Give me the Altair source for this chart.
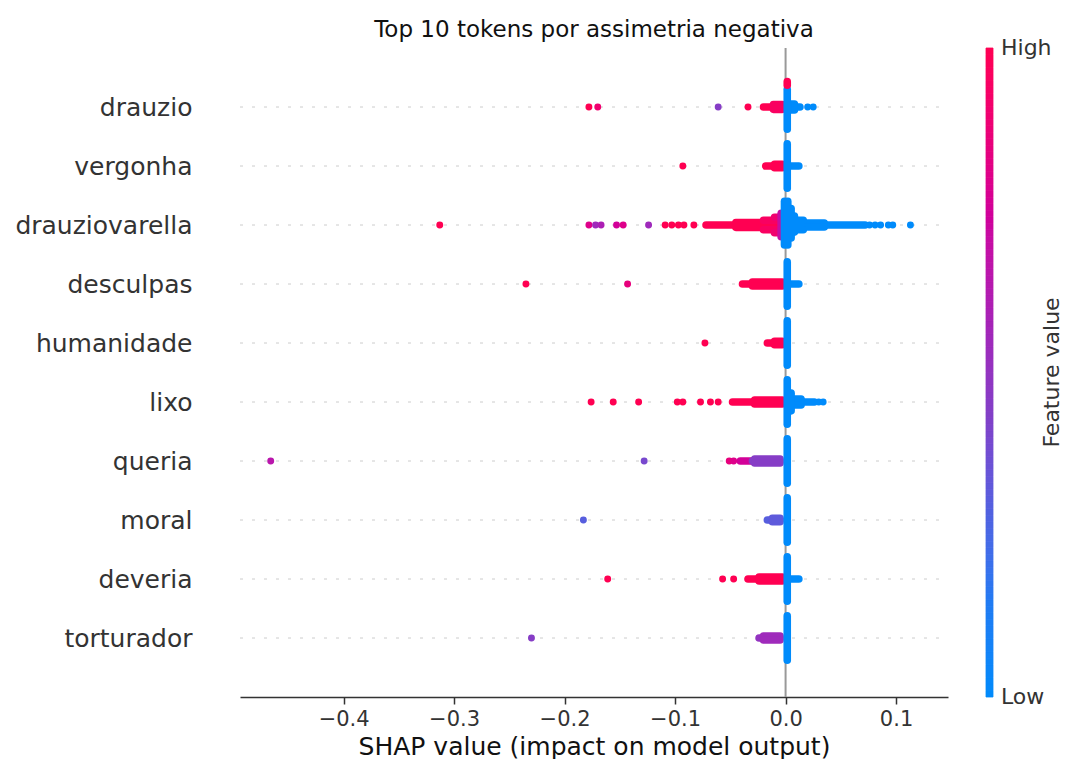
import altair as alt
import pandas as pd

# ---------------- data ----------------
tokens = ["drauzio", "vergonha", "drauziovarella", "desculpas", "humanidade",
          "lixo", "queria", "moral", "deveria", "torturador"]

# isolated SHAP points: (token, shap value, feature value 0..1)
dots = [
    ("drauzio", -0.178, 1.0), ("drauzio", -0.170, 0.9), ("drauzio", -0.061, 0.45),
    ("drauzio", -0.034, 1.0), ("drauzio", 0.020, 0.0), ("drauzio", 0.025, 0.0),
    ("vergonha", -0.093, 1.0),
    ("drauziovarella", -0.313, 1.0), ("drauziovarella", -0.178, 0.8),
    ("drauziovarella", -0.172, 0.55), ("drauziovarella", -0.167, 0.6),
    ("drauziovarella", -0.153, 0.75), ("drauziovarella", -0.147, 0.8),
    ("drauziovarella", -0.124, 0.55), ("drauziovarella", -0.109, 1.0),
    ("drauziovarella", -0.103, 1.0), ("drauziovarella", -0.097, 1.0),
    ("drauziovarella", -0.092, 1.0), ("drauziovarella", -0.083, 1.0),
    ("drauziovarella", 0.076, 0.0), ("drauziovarella", 0.081, 0.0),
    ("drauziovarella", 0.086, 0.0), ("drauziovarella", 0.093, 0.0),
    ("drauziovarella", 0.097, 0.0), ("drauziovarella", 0.113, 0.0),
    ("desculpas", -0.235, 1.0), ("desculpas", -0.143, 0.85),
    ("humanidade", -0.073, 1.0),
    ("lixo", -0.176, 1.0), ("lixo", -0.156, 1.0), ("lixo", -0.133, 1.0),
    ("lixo", -0.098, 1.0), ("lixo", -0.093, 1.0), ("lixo", -0.077, 1.0),
    ("lixo", -0.068, 1.0), ("lixo", -0.061, 1.0),
    ("lixo", 0.030, 0.0), ("lixo", 0.034, 0.0),
    ("queria", -0.466, 0.65), ("queria", -0.128, 0.4),
    ("queria", -0.051, 0.85), ("queria", -0.047, 0.8),
    ("moral", -0.183, 0.3),
    ("deveria", -0.161, 1.0), ("deveria", -0.057, 1.0), ("deveria", -0.047, 1.0),
    ("torturador", -0.230, 0.45),
]

# dense horizontal runs of overlapping points:
# (token, shap from, shap to, beeswarm offset in rows, feature value)
bands = [
    ("drauzio", -0.020, -0.003, 0.0, 1.0),
    ("drauzio", -0.011, -0.003, -0.04, 0.95), ("drauzio", -0.011, -0.003, 0.04, 0.95),
    ("vergonha", -0.018, -0.003, 0.0, 1.0),
    ("vergonha", -0.010, -0.003, -0.03, 1.0), ("vergonha", -0.010, -0.003, 0.03, 1.0),
    ("drauziovarella", -0.072, -0.008, 0.0, 1.0),
    ("drauziovarella", -0.045, -0.006, -0.04, 1.0), ("drauziovarella", -0.045, -0.006, 0.04, 1.0),
    ("drauziovarella", -0.020, -0.005, -0.08, 0.95), ("drauziovarella", -0.020, -0.005, 0.08, 0.95),
    ("drauziovarella", -0.010, -0.004, -0.13, 0.9), ("drauziovarella", -0.010, -0.004, 0.13, 0.9),
    ("desculpas", -0.039, -0.003, 0.0, 1.0),
    ("desculpas", -0.030, -0.003, -0.035, 1.0), ("desculpas", -0.030, -0.003, 0.035, 1.0),
    ("humanidade", -0.0165, -0.003, 0.0, 1.0),
    ("humanidade", -0.010, -0.003, -0.03, 1.0), ("humanidade", -0.010, -0.003, 0.03, 1.0),
    ("lixo", -0.048, -0.003, 0.0, 1.0),
    ("lixo", -0.028, -0.003, -0.035, 1.0), ("lixo", -0.028, -0.003, 0.035, 1.0),
    ("queria", -0.041, -0.029, 0.0, 0.75), ("queria", -0.030, -0.005, 0.0, 0.45),
    ("queria", -0.028, -0.005, -0.035, 0.45), ("queria", -0.028, -0.005, 0.035, 0.45),
    ("moral", -0.0165, -0.005, 0.0, 0.3),
    ("moral", -0.012, -0.005, -0.03, 0.32), ("moral", -0.012, -0.005, 0.03, 0.32),
    ("deveria", -0.034, -0.003, 0.0, 1.0),
    ("deveria", -0.024, -0.003, -0.035, 1.0), ("deveria", -0.024, -0.003, 0.035, 1.0),
    ("torturador", -0.024, -0.005, 0.0, 0.5),
    ("torturador", -0.020, -0.005, -0.035, 0.55), ("torturador", -0.020, -0.005, 0.035, 0.55),
    # low-value (blue) runs
    ("drauzio", 0.002, 0.013, 0.0, 0.0),
    ("drauzio", 0.002, 0.008, -0.05, 0.0), ("drauzio", 0.002, 0.008, 0.05, 0.0),
    ("vergonha", 0.002, 0.012, 0.0, 0.0),
    ("drauziovarella", 0.009, 0.072, 0.0, 0.0),
    ("drauziovarella", 0.009, 0.035, -0.035, 0.0), ("drauziovarella", 0.009, 0.035, 0.035, 0.0),
    ("drauziovarella", 0.009, 0.016, -0.08, 0.0), ("drauziovarella", 0.009, 0.016, 0.08, 0.0),
    ("desculpas", 0.002, 0.012, 0.0, 0.0),
    ("lixo", 0.002, 0.026, 0.0, 0.0),
    ("lixo", 0.002, 0.014, -0.05, 0.0), ("lixo", 0.002, 0.014, 0.05, 0.0),
    ("deveria", 0.002, 0.012, 0.0, 0.0),
]

# dense vertical stacks of points (beeswarm spread):
# (token, shap value, offset from, offset to, feature value)
columns = [
    ("drauziovarella", -0.004, -0.20, 0.20, 0.7),
    ("drauzio", 0.0015, -0.30, 0.375, 0.0),
    ("drauzio", 0.0015, -0.43, -0.37, 1.0),
    ("vergonha", 0.0015, -0.375, 0.375, 0.0),
    ("drauziovarella", -0.001, -0.40, 0.34, 0.0),
    ("drauziovarella", 0.002, -0.40, 0.34, 0.0),
    ("drauziovarella", 0.005, -0.28, 0.22, 0.0),
    ("drauziovarella", 0.008, -0.15, 0.12, 0.0),
    ("desculpas", 0.0015, -0.375, 0.375, 0.0),
    ("humanidade", 0.0015, -0.375, 0.375, 0.0),
    ("lixo", 0.0015, -0.375, 0.375, 0.0),
    ("lixo", 0.005, -0.15, 0.15, 0.0),
    ("queria", 0.0015, -0.375, 0.375, 0.0),
    ("moral", 0.0015, -0.375, 0.375, 0.0),
    ("deveria", 0.0015, -0.375, 0.375, 0.0),
    ("torturador", 0.0015, -0.375, 0.375, 0.0),
]

x_ticks = [-0.4, -0.3, -0.2, -0.1, 0.0, 0.1]
cbar_stops = [0.0, 1 / 7, 2 / 7, 3 / 7, 4 / 7, 5 / 7, 6 / 7, 1.0]
cbar_colors = ["#008bfb", "#1f7bf3", "#5161e0", "#8040c8", "#a424b8",
               "#c80aa2", "#e8007a", "#ff0052"]
cbar_title = "Feature value"
cbar_ends = [("High", 1.0), ("Low", 0.0)]
CBAR_STEPS = 100  # colour-bar swatch resolution

# ---------------- tables ----------------
row_of = {t: i for i, t in enumerate(tokens)}

dots_df = pd.DataFrame(dots, columns=["token", "shap", "fv"])
dots_df["row"] = dots_df["token"].map(row_of)

b = pd.DataFrame(bands, columns=["token", "x1", "x2", "off", "fv"])
b["d1"] = b["off"]
b["d2"] = b["off"]
c = pd.DataFrame(columns, columns=["token", "x1", "d1", "d2", "fv"])
c["x2"] = c["x1"]
seg_df = pd.concat([b[["token", "x1", "x2", "d1", "d2", "fv"]],
                    c[["token", "x1", "x2", "d1", "d2", "fv"]]], ignore_index=True)
seg_df["row"] = seg_df["token"].map(row_of)
seg_df["z"] = range(len(seg_df))

rows_df = pd.DataFrame({"token": tokens, "row": list(range(len(tokens)))})
zero_df = pd.DataFrame({"shap": [0.0]})
title_df = pd.DataFrame({"label": [cbar_title]})
cbar_df = pd.DataFrame({
    "lo": [i / CBAR_STEPS for i in range(CBAR_STEPS)],
    "hi": [(i + 1) / CBAR_STEPS for i in range(CBAR_STEPS)],
    "fv": [(i + 0.5) / CBAR_STEPS for i in range(CBAR_STEPS)],
})
ends_df = pd.DataFrame(cbar_ends, columns=["label", "pos"])

# ---------------- scales / axes ----------------
W, H = 708, 649
FONT = "DejaVu Sans"

xscale = alt.Scale(domain=[-0.4938, 0.147], nice=False, zero=False)
yscale = alt.Scale(domain=[-1, len(tokens)], reverse=True, nice=False, zero=False)
cbar_y = alt.Scale(domain=[0, 1], nice=False, zero=False)


def cscale():
    return alt.Scale(domain=cbar_stops, range=cbar_colors)


label_expr = "[" + ",".join("'" + t + "'" for t in tokens) + "][datum.value]"

xaxis = alt.Axis(values=x_ticks, format=".1f", title="SHAP value (impact on model output)",
                 grid=False, domainColor="#333333", domainWidth=1.5,
                 tickColor="#333333", tickWidth=1.5, tickSize=7,
                 labelFontSize=21, labelColor="#333333", labelPadding=4,
                 titleFontSize=25, titleFontWeight="normal", titleColor="#111111",
                 titlePadding=5)
yaxis = alt.Axis(values=list(range(len(tokens))), labelExpr=label_expr, title=None,
                 domain=False, ticks=False, grid=False, labelFontSize=25,
                 labelColor="#333333", labelPadding=48)

grid = alt.Chart(rows_df).mark_rule(color="#cccccc", strokeWidth=1, strokeDash=[3, 9]).encode(
    y=alt.Y("row:Q", scale=yscale, axis=None),
    x=alt.value(0), x2=alt.value(W),
)

zero = alt.Chart(zero_df).mark_rule(color="#999999", strokeWidth=2).encode(
    x=alt.X("shap:Q", scale=xscale, axis=xaxis),
    y=alt.value(0), y2=alt.value(H),
)

segs = alt.Chart(seg_df).transform_calculate(
    y1="datum.row + datum.d1", y2="datum.row + datum.d2"
).mark_rule(strokeWidth=7.6, strokeCap="round").encode(
    x=alt.X("x1:Q", scale=xscale, axis=xaxis),
    x2="x2:Q",
    y=alt.Y("y1:Q", scale=yscale, axis=None),
    y2="y2:Q",
    stroke=alt.Stroke("fv:Q", scale=cscale(), legend=None),
    order=alt.Order("z:Q"),
)

pts = alt.Chart(dots_df).mark_circle(size=48, opacity=1).encode(
    x=alt.X("shap:Q", scale=xscale, axis=xaxis),
    y=alt.Y("row:Q", scale=yscale, axis=yaxis),
    fill=alt.Fill("fv:Q", scale=cscale(), legend=None),
)

cbar = alt.Chart(cbar_df).mark_rect(strokeWidth=0.8).encode(
    x=alt.value(746), x2=alt.value(753),
    y=alt.Y("lo:Q", scale=cbar_y, axis=None), y2="hi:Q",
    fill=alt.Fill("fv:Q", scale=cscale(), legend=None),
    stroke=alt.Stroke("fv:Q", scale=cscale(), legend=None),
)

cbar_text = alt.Chart(ends_df).mark_text(
    fontSize=22, color="#333333", font=FONT, align="left", baseline="middle"
).encode(x=alt.value(761), y=alt.Y("pos:Q", scale=cbar_y, axis=None), text="label:N")

cbar_label = alt.Chart(title_df).mark_text(
    angle=270, fontSize=22, color="#333333", font=FONT, align="center", baseline="middle"
).encode(x=alt.value(812), y=alt.value(H / 2), text="label:N")

chart = alt.layer(grid, zero, segs, pts, cbar, cbar_text, cbar_label).resolve_scale(
    y="independent"
).properties(
    width=W, height=H,
    padding={"left": 232, "top": 40, "right": 116, "bottom": 62},
    autosize=alt.AutoSizeParams(type="none"),
    title=alt.Title("Top 10 tokens por assimetria negativa", fontSize=23, font=FONT,
                    fontWeight="normal", color="#111111", anchor="middle", offset=-5),
).configure(font=FONT).configure_view(stroke=None).configure_axis(
    labelFont=FONT, titleFont=FONT
)

chart.save("out.html", embed_options={"renderer": "svg", "actions": False})
